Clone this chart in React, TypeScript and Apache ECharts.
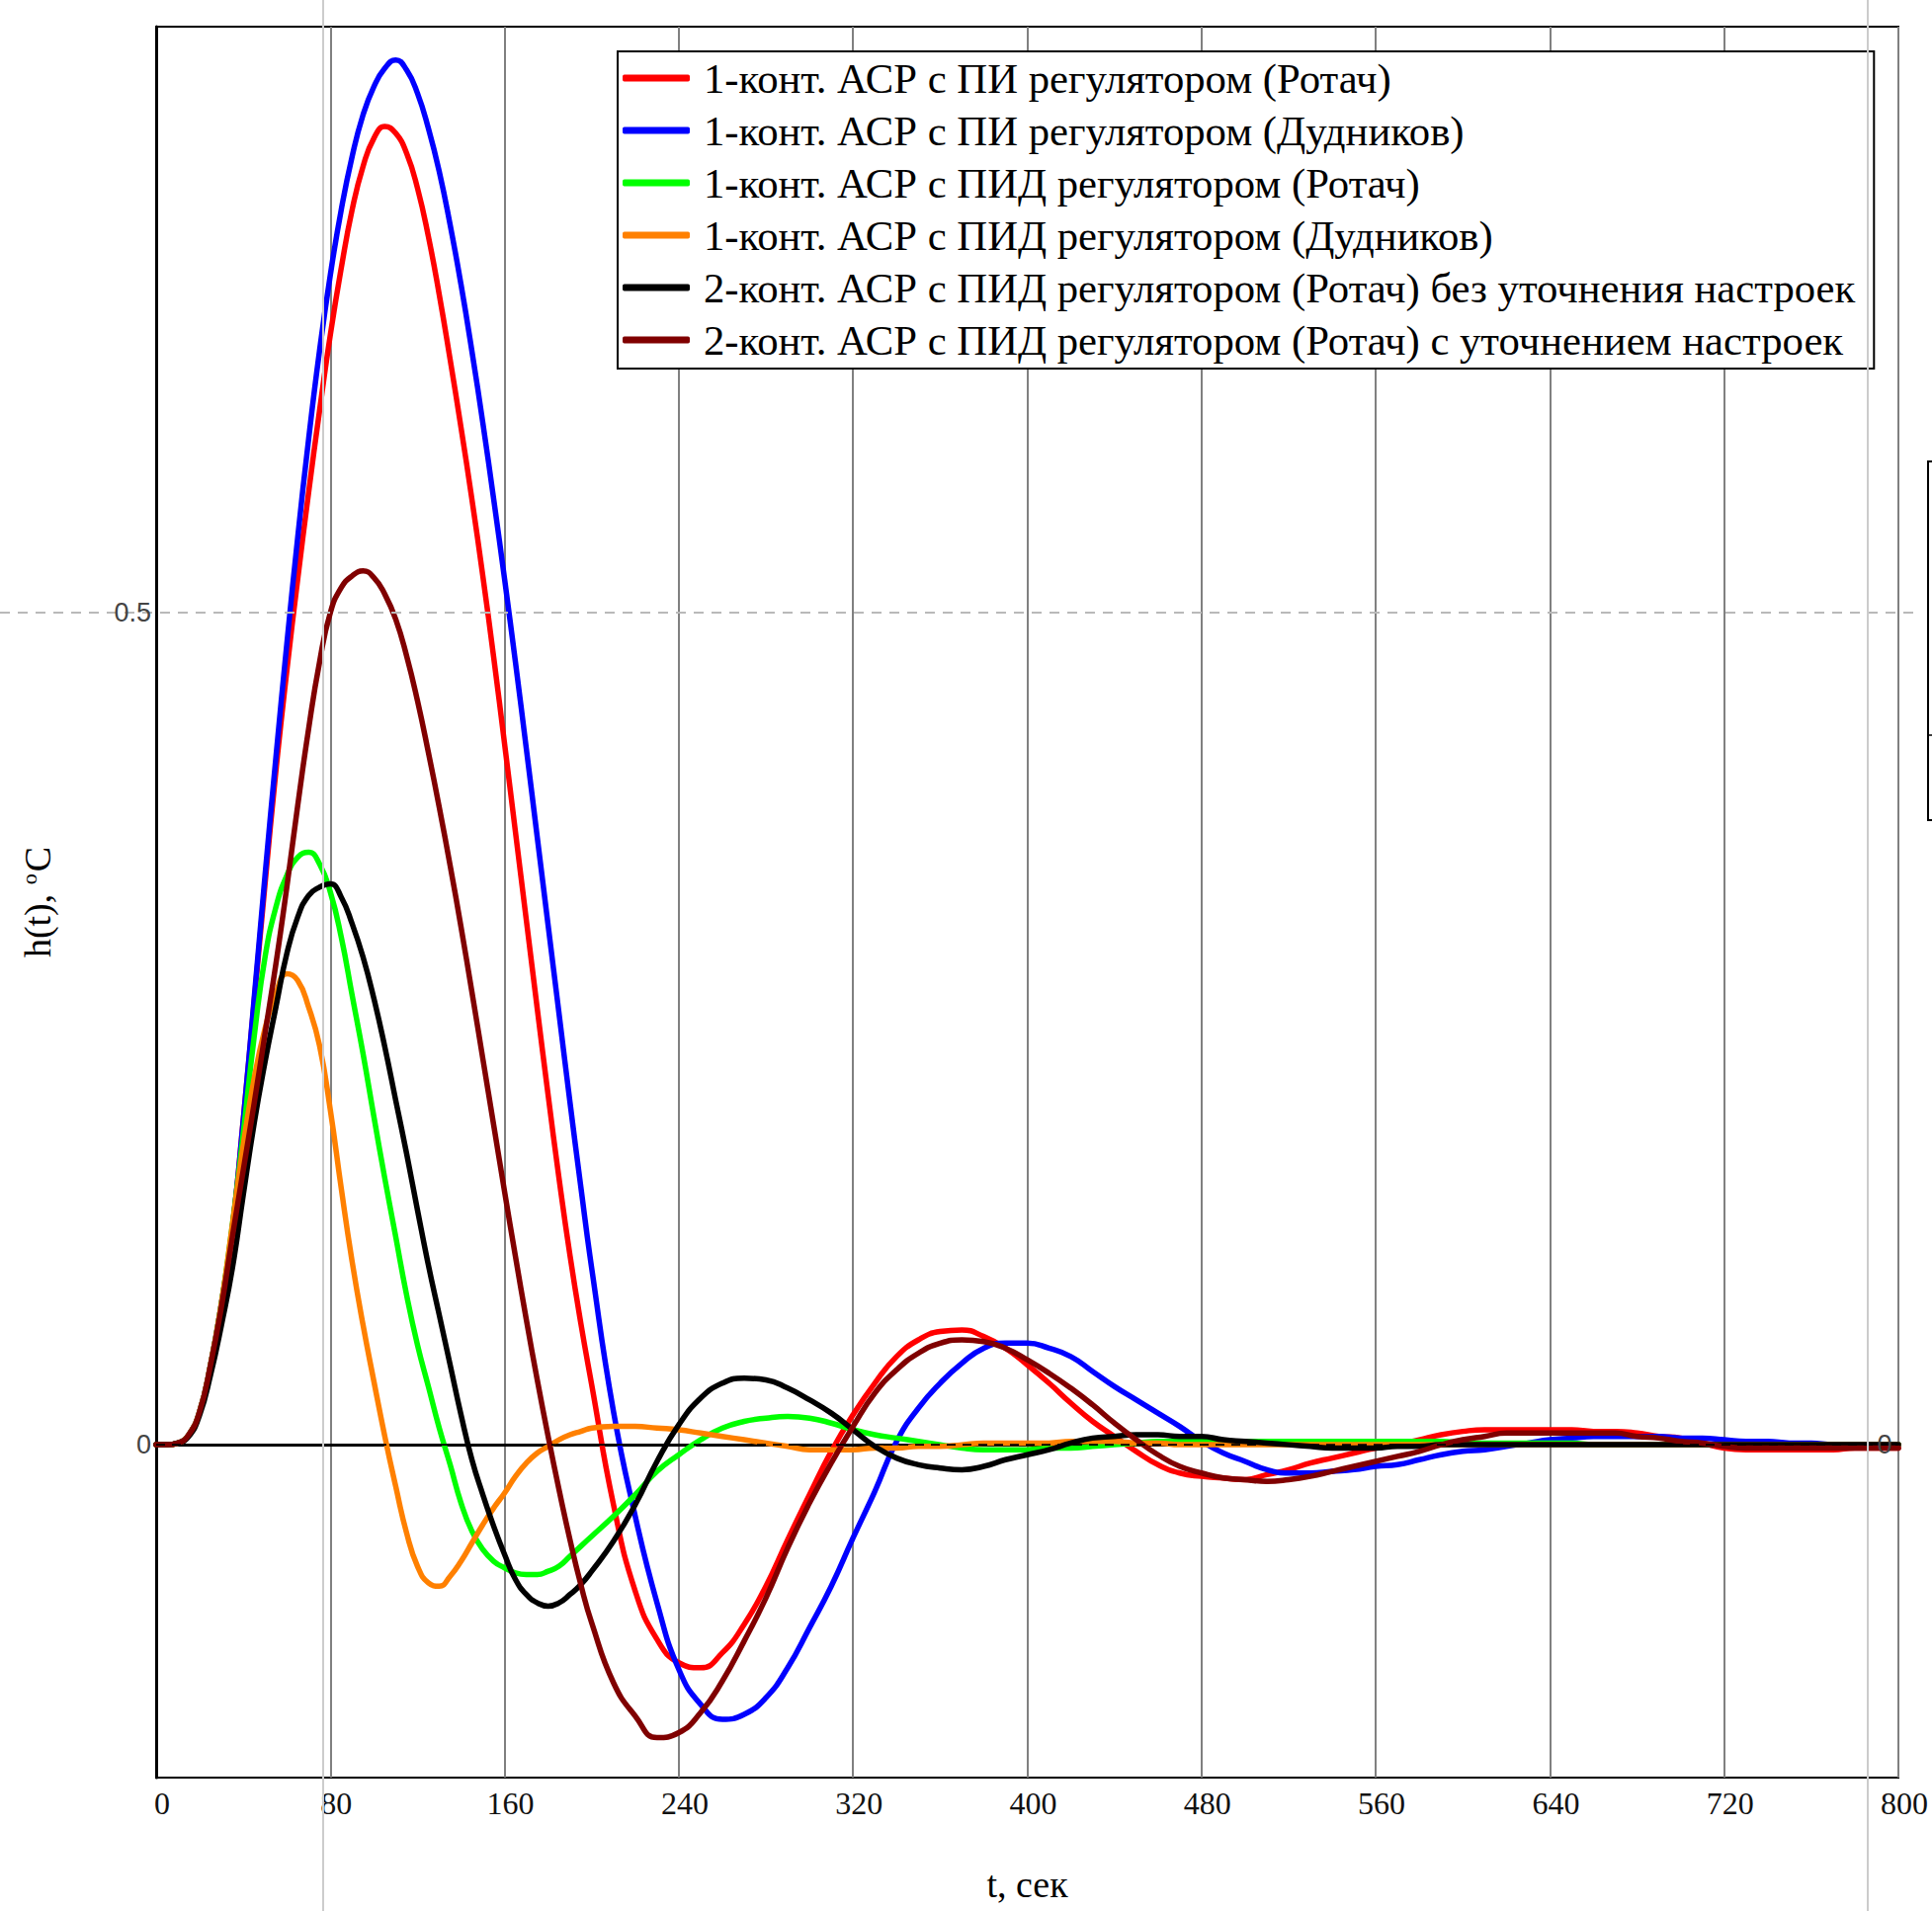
import React, { useEffect, useRef } from "react";
import * as echarts from "echarts";

// time axis, s (5 s steps up to 200, then 10 s steps)
const T = [
  0, 5, 10, 15, 20, 25, 30, 35, 40, 45, 50, 55, 60, 65, 70, 75, 80, 85, 90, 95,
  100, 105, 110, 115, 120, 125, 130, 135, 140, 145, 150, 155, 160, 165, 170, 175, 180, 185, 190, 195, 200,
  210, 220, 230, 240, 250, 260, 270, 280, 290, 300, 310, 320, 330, 340, 350, 360, 370, 380, 390, 400,
  410, 420, 430, 440, 450, 460, 470, 480, 490, 500, 510, 520, 530, 540, 550, 560, 570, 580, 590, 600,
  610, 620, 630, 640, 650, 660, 670, 680, 690, 700, 710, 720, 730, 740, 750, 760, 770, 780, 790, 800,
];

const X_TICKS = [0, 80, 160, 240, 320, 400, 480, 560, 640, 720, 800];

const NAMES = [
  "1-конт. АСР с ПИ регулятором (Ротач)",
  "1-конт. АСР с ПИ регулятором (Дудников)",
  "1-конт. АСР с ПИД регулятором (Ротач)",
  "1-конт. АСР с ПИД регулятором (Дудников)",
  "2-конт. АСР с ПИД регулятором (Ротач) без уточнения настроек",
  "2-конт. АСР с ПИД регулятором (Ротач) с уточнением настроек",
];

const COLORS = ["#ff0000", "#0000ff", "#00ff00", "#ff8000", "#000000", "#800000"];

const PI_ROTACH = [
  0, 0, 0.001, 0.006, 0.02, 0.048, 0.085, 0.13, 0.195, 0.266, 0.337, 0.405, 0.465, 0.52, 0.572, 0.621, 0.667, 0.707, 0.742, 0.768,
  0.785, 0.792, 0.788, 0.776, 0.755, 0.726, 0.691, 0.652, 0.611, 0.568, 0.522, 0.473, 0.421, 0.368, 0.315, 0.262, 0.21, 0.16, 0.114, 0.073, 0.036,
  -0.036, -0.088, -0.117, -0.131, -0.134, -0.125, -0.108, -0.085, -0.057, -0.03, -0.004, 0.018, 0.037, 0.053, 0.063, 0.068, 0.069, 0.065, 0.058, 0.048,
  0.037, 0.025, 0.014, 0.005, -0.004, -0.012, -0.017, -0.019, -0.02, -0.021, -0.018, -0.015, -0.011, -0.008, -0.005, -0.002, 0, 0.003, 0.006, 0.008,
  0.009, 0.009, 0.009, 0.009, 0.009, 0.008, 0.008, 0.007, 0.005, 0.004, 0.001, -0.002, -0.003, -0.003, -0.003, -0.003, -0.003, -0.002, -0.002, -0.002,
];

const PI_DUDNIKOV = [
  0, 0, 0.001, 0.006, 0.02, 0.048, 0.085, 0.13, 0.195, 0.268, 0.342, 0.413, 0.481, 0.545, 0.604, 0.657, 0.703, 0.742, 0.774, 0.799,
  0.816, 0.827, 0.832, 0.826, 0.812, 0.791, 0.765, 0.733, 0.697, 0.657, 0.614, 0.568, 0.52, 0.47, 0.418, 0.365, 0.312, 0.259, 0.206, 0.155, 0.106,
  0.02, -0.043, -0.095, -0.135, -0.156, -0.165, -0.162, -0.152, -0.134, -0.11, -0.085, -0.056, -0.028, 0.002, 0.022, 0.037, 0.049, 0.058, 0.061, 0.061,
  0.058, 0.053, 0.044, 0.035, 0.027, 0.019, 0.011, 0.002, -0.005, -0.01, -0.015, -0.017, -0.017, -0.016, -0.015, -0.013, -0.012, -0.009, -0.006, -0.004,
  -0.003, -0.001, 0.001, 0.003, 0.004, 0.005, 0.005, 0.005, 0.005, 0.004, 0.004, 0.003, 0.002, 0.002, 0.001, 0.001, 0, 0, 0, 0,
];

const PID_ROTACH = [
  0, 0, 0.001, 0.006, 0.02, 0.048, 0.085, 0.132, 0.187, 0.245, 0.293, 0.323, 0.342, 0.353, 0.356, 0.349, 0.332, 0.305, 0.27, 0.235,
  0.197, 0.16, 0.125, 0.09, 0.06, 0.035, 0.01, -0.012, -0.035, -0.052, -0.063, -0.07, -0.074, -0.077, -0.078, -0.078, -0.076, -0.073, -0.067, -0.061, -0.055,
  -0.043, -0.03, -0.016, -0.006, 0.003, 0.01, 0.014, 0.016, 0.017, 0.016, 0.013, 0.009, 0.006, 0.004, 0.002, 0, -0.002, -0.003, -0.003, -0.003,
  -0.002, -0.002, -0.001, 0, 0.001, 0.002, 0.002, 0.002, 0.002, 0.002, 0.002, 0.002, 0.002, 0.002, 0.002, 0.002, 0.002, 0.002, 0.002, 0.001,
  0.001, 0.001, 0.001, 0.001, 0.001, 0, 0, 0, 0, 0, 0, 0, 0, 0, 0, 0, 0, 0, 0, 0,
];

const PID_DUDNIKOV = [
  0, 0, 0.001, 0.006, 0.02, 0.048, 0.085, 0.132, 0.18, 0.22, 0.25, 0.271, 0.283, 0.279, 0.263, 0.24, 0.201, 0.154, 0.11, 0.072,
  0.038, 0.005, -0.025, -0.053, -0.073, -0.083, -0.085, -0.079, -0.07, -0.059, -0.048, -0.038, -0.029, -0.019, -0.011, -0.005, -0.001, 0.003, 0.006, 0.008, 0.01,
  0.011, 0.011, 0.01, 0.009, 0.007, 0.005, 0.003, 0.001, -0.001, -0.003, -0.003, -0.003, -0.002, -0.002, -0.001, -0.001, 0, 0.001, 0.001, 0.001,
  0.001, 0.002, 0.002, 0.002, 0.001, 0.001, 0, 0, 0, 0, 0, 0, 0, 0, 0, 0, 0, 0, 0, 0,
  0, 0, 0, 0, 0, 0, 0, 0, 0, 0, 0, 0, 0, 0, 0, 0, 0, 0, 0, 0,
];

const TWO_LOOP_BASE = [
  0, 0, 0.001, 0.005, 0.018, 0.042, 0.072, 0.106, 0.15, 0.193, 0.23, 0.263, 0.295, 0.317, 0.33, 0.335, 0.337, 0.329, 0.313, 0.293,
  0.268, 0.239, 0.207, 0.175, 0.141, 0.108, 0.078, 0.048, 0.018, -0.009, -0.03, -0.049, -0.066, -0.081, -0.09, -0.095, -0.097, -0.095, -0.09, -0.084, -0.076,
  -0.058, -0.036, -0.01, 0.012, 0.028, 0.037, 0.04, 0.039, 0.034, 0.027, 0.019, 0.009, -0.001, -0.008, -0.012, -0.014, -0.015, -0.013, -0.009, -0.006,
  -0.003, 0.001, 0.004, 0.005, 0.006, 0.006, 0.005, 0.005, 0.003, 0.002, 0.001, 0, -0.001, -0.002, -0.002, -0.002, -0.001, -0.001, 0, 0,
  0, 0, 0, 0, 0, 0, 0, 0, 0, 0, 0, 0, 0, 0, 0, 0, 0, 0, 0, 0,
];

const TWO_LOOP_TUNED = [
  0, 0, 0.001, 0.006, 0.02, 0.048, 0.083, 0.125, 0.165, 0.205, 0.247, 0.289, 0.335, 0.384, 0.43, 0.47, 0.5, 0.515, 0.522, 0.525,
  0.521, 0.511, 0.496, 0.474, 0.447, 0.416, 0.383, 0.348, 0.311, 0.272, 0.232, 0.192, 0.152, 0.113, 0.075, 0.039, 0.005, -0.027, -0.057, -0.084, -0.107,
  -0.143, -0.163, -0.176, -0.173, -0.161, -0.142, -0.118, -0.092, -0.062, -0.035, -0.011, 0.011, 0.031, 0.045, 0.055, 0.061, 0.063, 0.062, 0.058, 0.051,
  0.043, 0.034, 0.024, 0.013, 0.003, -0.006, -0.013, -0.017, -0.02, -0.021, -0.022, -0.021, -0.019, -0.016, -0.013, -0.01, -0.007, -0.004, 0, 0.003,
  0.005, 0.007, 0.007, 0.007, 0.007, 0.007, 0.007, 0.005, 0.004, 0.002, 0.001, -0.001, -0.002, -0.002, -0.002, -0.002, -0.002, -0.002, -0.002, -0.002,
];

const SERIES_VALUES = [PI_ROTACH, PI_DUDNIKOV, PID_ROTACH, PID_DUDNIKOV, TWO_LOOP_BASE, TWO_LOOP_TUNED];

const Y_MIN = -0.2;
const Y_MAX = 0.852;
const Y_MARK_HALF = 0.5;
const Y_MARK_ZERO = 0;

const SERIF = "'Liberation Serif', 'Times New Roman', serif";
const SANS = "'Liberation Sans', Arial, sans-serif";

export default function App() {
  const ref = useRef<HTMLDivElement>(null);

  useEffect(() => {
    const el = ref.current;
    if (!el) return;
    const chart = echarts.init(el, null, { renderer: "svg" });

    const series = SERIES_VALUES.map((vals, k) => ({
      name: NAMES[k],
      type: "line",
      data: T.map((t, i) => [t, vals[i]]),
      symbol: "none",
      showSymbol: false,
      smooth: 0.5,
      silent: true,
      color: COLORS[k],
      lineStyle: { color: COLORS[k], width: 5.5, cap: "round", join: "round" },
      emphasis: { disabled: true },
    }));

    chart.setOption({
      animation: false,
      backgroundColor: "#ffffff",
      grid: {
        left: 158,
        top: 27,
        right: 34,
        bottom: 135,
        show: true,
        borderColor: "#000",
        borderWidth: 2,
        backgroundColor: "transparent",
      },
      legend: {
        data: NAMES,
        orient: "vertical",
        left: 625,
        top: 52,
        padding: [4, 19, 6, 5],
        itemGap: 7,
        itemWidth: 68,
        itemHeight: 7,
        icon: "roundRect",
        backgroundColor: "#fff",
        borderColor: "#000",
        borderWidth: 2,
        selectedMode: false,
        textStyle: {
          fontFamily: SERIF,
          fontSize: 42.7,
          color: "#000",
          lineHeight: 46,
          padding: [0, 0, 0, 9],
        },
      },
      xAxis: {
        type: "value",
        min: X_TICKS[0],
        max: X_TICKS[X_TICKS.length - 1],
        interval: X_TICKS[1] - X_TICKS[0],
        name: "t, сек",
        nameLocation: "middle",
        nameGap: 89,
        nameTextStyle: { fontFamily: SERIF, fontSize: 38, color: "#000" },
        axisLine: { show: true, lineStyle: { color: "#000", width: 3 } },
        axisTick: { show: false },
        axisLabel: {
          fontFamily: SERIF,
          fontSize: 32,
          color: "#111",
          margin: 10,
          padding: [0, 0, 0, 12],
        },
        splitLine: { show: true, lineStyle: { color: "#808080", width: 2 } },
      },
      yAxis: {
        type: "value",
        min: Y_MIN,
        max: Y_MAX,
        name: "{a|h(t), }{b|o}{a|C}",
        nameLocation: "middle",
        nameGap: 100,
        nameRotate: 90,
        nameTextStyle: {
          rich: {
            a: { fontFamily: SERIF, fontSize: 38, color: "#000", lineHeight: 40 },
            b: { fontFamily: SERIF, fontSize: 22, color: "#000", lineHeight: 40, verticalAlign: "top", padding: [0, 2, 14, 0] },
          },
        },
        axisLine: { show: true, lineStyle: { color: "#000", width: 3 } },
        axisTick: { show: false },
        axisLabel: { show: false },
        splitLine: { show: false },
      },
      series,
    });

    const yHalf = chart.convertToPixel({ yAxisIndex: 0 }, Y_MARK_HALF) as number;
    const yZero = chart.convertToPixel({ yAxisIndex: 0 }, Y_MARK_ZERO) as number;
    const xLeft = chart.convertToPixel({ xAxisIndex: 0 }, X_TICKS[0]) as number;
    const xRight = chart.convertToPixel({ xAxisIndex: 0 }, X_TICKS[X_TICKS.length - 1]) as number;

    chart.setOption({
      graphic: [
        {
          type: "line",
          z: 100,
          silent: true,
          shape: { x1: 0, y1: yHalf, x2: 1938, y2: yHalf },
          style: { stroke: "#b9b9b9", lineWidth: 2, lineDash: [10, 8] },
        },
        {
          type: "line",
          z: 101,
          silent: true,
          shape: { x1: xLeft, y1: yZero, x2: xRight, y2: yZero },
          style: { stroke: "#000", lineWidth: 1.6, lineDash: [9, 7] },
        },
        {
          type: "line",
          z: 102,
          silent: true,
          shape: { x1: 327, y1: 0, x2: 327, y2: 1934 },
          style: { stroke: "#cccccc", lineWidth: 2 },
        },
        {
          type: "line",
          z: 102,
          silent: true,
          shape: { x1: 1890, y1: 0, x2: 1890, y2: 1934 },
          style: { stroke: "#cccccc", lineWidth: 2 },
        },
        {
          type: "text",
          z: 103,
          silent: true,
          x: xLeft - 5,
          y: yHalf,
          style: { text: "0.5", fontFamily: SANS, fontSize: 27, fill: "#444", align: "right", verticalAlign: "middle" },
        },
        {
          type: "text",
          z: 103,
          silent: true,
          x: xLeft - 5,
          y: yZero,
          style: { text: "0", fontFamily: SANS, fontSize: 27, fill: "#444", align: "right", verticalAlign: "middle" },
        },
        {
          type: "text",
          z: 103,
          silent: true,
          x: xRight - 14,
          y: yZero,
          style: { text: "0", fontFamily: SANS, fontSize: 27, fill: "#444", align: "center", verticalAlign: "middle" },
        },
        {
          type: "rect",
          z: 100,
          silent: true,
          shape: { x: 1951, y: 467, width: 20, height: 363 },
          style: { fill: "#fff", stroke: "#000", lineWidth: 2 },
        },
        {
          type: "line",
          z: 101,
          silent: true,
          shape: { x1: 1951, y1: 744, x2: 1955, y2: 744 },
          style: { stroke: "#000", lineWidth: 1.5 },
        },
      ],
    });

    return () => chart.dispose();
  }, []);

  return (
    <div
      ref={ref}
      style={{ position: "fixed", left: 0, top: 0, width: 1955, height: 1934, background: "#fff" }}
    />
  );
}
